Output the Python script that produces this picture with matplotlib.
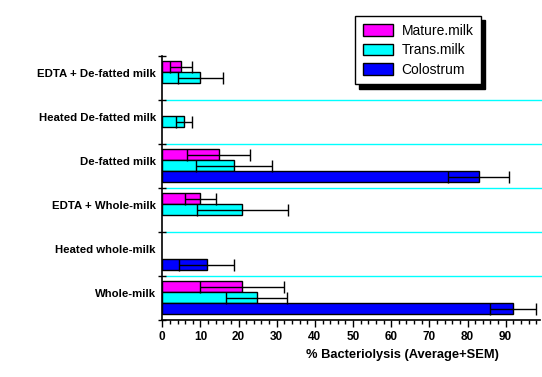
import numpy as np
import matplotlib
matplotlib.use('Agg')
import matplotlib.pyplot as plt
from matplotlib.patches import Patch
from matplotlib.ticker import MultipleLocator

plt.rcParams['font.family'] = ['Liberation Sans', 'DejaVu Sans']

# groups listed bottom -> top
groups = ['Whole-milk', 'Heated whole-milk', 'EDTA + Whole-milk',
          'De-fatted milk', 'Heated De-fatted milk', 'EDTA + De-fatted milk']

mature = [21.0, np.nan, 10.0, 14.8, np.nan, 4.9]
mature_sem = [11.0, np.nan, 4.0, 8.2, np.nan, 3.0]
trans = [24.8, np.nan, 21.0, 18.8, 5.7, 10.0]
trans_sem = [8.0, np.nan, 12.0, 10.0, 2.1, 6.0]
colostrum = [92.0, 11.7, np.nan, 83.0, np.nan, np.nan]
colostrum_sem = [6.0, 7.2, np.nan, 8.0, np.nan, np.nan]

series = [('Mature.milk', mature, mature_sem, '#ff00ff', 0.76),
          ('Trans.milk', trans, trans_sem, '#00ffff', 0.51),
          ('Colostrum', colostrum, colostrum_sem, '#0000ff', 0.26)]

fig = plt.figure(figsize=(5.42, 3.77), dpi=100)
ax = fig.add_axes([162.3 / 542, 57 / 377, 377.7 / 542, 264 / 377])

base = np.arange(len(groups))
for name, vals, sems, col, off in series:
    vals = np.array(vals)
    sems = np.array(sems)
    m = ~np.isnan(vals)
    y = base[m] + off
    ax.barh(y, vals[m], height=0.25, color=col, edgecolor='black', linewidth=1.0, zorder=2)
    ax.errorbar(vals[m], y, xerr=sems[m], fmt='none', ecolor='black',
                elinewidth=1.0, capsize=4, capthick=1.0, zorder=3)

for g in range(1, len(groups)):
    ax.axhline(g, xmin=0.008, xmax=1.01, color='#00ffff', linewidth=1.0, clip_on=False, zorder=1)

ax.set_xlim(0, 99)
ax.set_ylim(0, len(groups))
ax.xaxis.set_major_locator(MultipleLocator(10))
ax.xaxis.set_minor_locator(MultipleLocator(2))
ax.set_xticks(np.arange(0, 100, 10))
ax.set_xticklabels([str(v) for v in range(0, 100, 10)], fontsize=8.5, fontweight='bold')
ax.tick_params(axis='x', which='major', length=5, width=1.0, direction='out', pad=3)
ax.tick_params(axis='x', which='minor', length=3, width=1.0, direction='out')

ax.set_yticks(np.arange(0, len(groups) + 1))
ax.set_yticklabels([])
ax.tick_params(axis='y', which='major', length=6, width=1.0, direction='inout')
for i, g in enumerate(groups):
    ax.text(-0.017, (i + 0.6) / len(groups), g, transform=ax.transAxes,
            ha='right', va='center', fontsize=8.2, fontweight='bold')

for s in ['top', 'right']:
    ax.spines[s].set_visible(False)
for s in ['left', 'bottom']:
    ax.spines[s].set_linewidth(1.2)

fig.text(402.5 / 542, 1 - 355 / 377, '% Bacteriolysis (Average+SEM)',
         ha='center', va='center', fontsize=9.3, fontweight='bold')

handles = [Patch(facecolor=c, edgecolor='black', linewidth=1.0) for _, _, _, c, _ in series]
labels = [n for n, _, _, _, _ in series]
leg = fig.legend(handles, labels, loc='upper left', bbox_to_anchor=(355 / 542, 1 - 16 / 377),
                 frameon=True, fancybox=False, edgecolor='black', framealpha=1,
                 shadow={'ox': 3, 'oy': -3, 'color': 'black', 'alpha': 1},
                 fontsize=10, handlelength=2.2, handleheight=0.9, handletextpad=0.6,
                 labelspacing=0.4, borderpad=0.55, borderaxespad=0)
leg.get_frame().set_linewidth(1.0)

fig.savefig('out.png', dpi=100)
